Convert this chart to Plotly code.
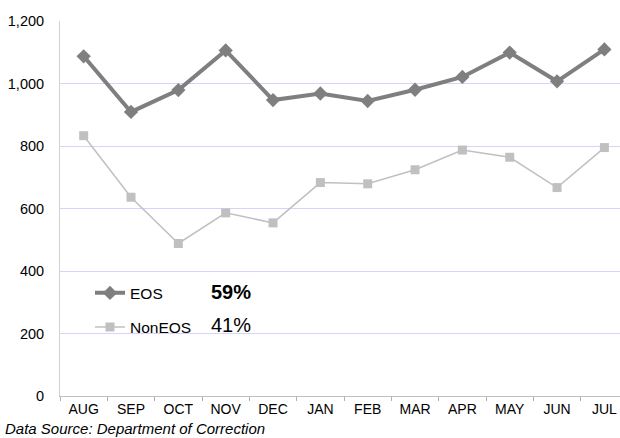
import plotly.graph_objects as go

months = ["AUG", "SEP", "OCT", "NOV", "DEC", "JAN", "FEB", "MAR", "APR", "MAY", "JUN", "JUL"]
eos = [1087, 909, 979, 1106, 947, 968, 944, 980, 1021, 1099, 1007, 1109]
non_eos = [833, 636, 488, 586, 554, 683, 679, 724, 787, 764, 667, 795]
series_names = ["EOS", "NonEOS"]
share_labels = ["59%", "41%"]
y_ticks = [0, 200, 400, 600, 800, 1000, 1200]
source_note = "Data Source: Department of Correction"

FONT = "Liberation Sans, Arial, sans-serif"

# plot area geometry in pixels (used to place paper-referenced items)
PL, PW = 60, 560
PB, PH = 395.7, 375


def px(xp):
    return (xp - PL) / PW


def py(yp):
    return (PB - yp) / PH


fig = go.Figure()
fig.add_trace(go.Scatter(
    x=months, y=eos, name=series_names[0], mode="lines+markers",
    line=dict(color="#7f7f7f", width=4),
    marker=dict(symbol="diamond", size=11, color="#7f7f7f"),
    legendgroup="a",
))
fig.add_trace(go.Scatter(
    x=months, y=non_eos, name=series_names[1], mode="lines+markers",
    line=dict(color="#c0c0c0", width=1.5),
    marker=dict(symbol="square", size=9, color="#c0c0c0"),
    legendgroup="b",
))

# share of each series, written beside its legend entry
ann_y = [292, 325]
for i, lab in enumerate(share_labels):
    txt = "<b>%s</b>" % lab if i == 0 else lab
    fig.add_annotation(
        x=px(209), y=py(ann_y[i]),
        xref="paper", yref="paper", xanchor="left", yanchor="middle",
        text=txt, showarrow=False,
        font=dict(family=FONT, size=20, color="#000000"),
    )

fig.add_annotation(
    x=px(3), y=py(428.5), xref="paper", yref="paper",
    xanchor="left", yanchor="middle", showarrow=False,
    text="<i>" + source_note + "</i>",
    font=dict(family=FONT, size=15, color="#000000"),
)

fig.update_layout(
    width=620, height=438,
    margin=dict(l=PL, r=0, t=21, b=42, pad=0),
    paper_bgcolor="white", plot_bgcolor="white",
    font=dict(family=FONT, size=14, color="#000000"),
    showlegend=True,
    legend=dict(
        x=px(90), y=py(276), xanchor="left", yanchor="top",
        bgcolor="rgba(0,0,0,0)", font=dict(family=FONT, size=15.5),
        tracegroupgap=11, traceorder="grouped",
    ),
    xaxis=dict(
        type="category", range=[-0.5, 11.33],
        tickson="boundaries", ticks="outside", ticklen=4, tickcolor="#b0b0b0",
        showline=True, linecolor="#c0c0c0", linewidth=1,
        showgrid=False, zeroline=False, fixedrange=True,
        tickfont=dict(family=FONT, size=14),
    ),
    yaxis=dict(
        range=[0, 1200], tickvals=y_ticks, tickformat=",d",
        showgrid=True, gridcolor="#d4d4ff", gridwidth=1,
        showline=True, linecolor="#d0d0d0", linewidth=1,
        zeroline=False, ticks="", ticklabelstandoff=12,
        tickfont=dict(family=FONT, size=14.5),
    ),
)

fig.write_html("out.html")
